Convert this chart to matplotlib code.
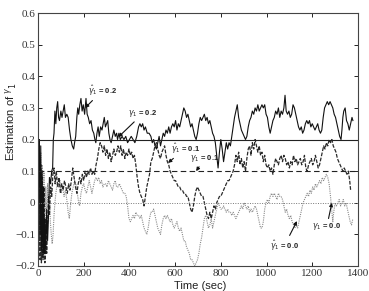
import matplotlib
matplotlib.use("Agg")
import matplotlib.pyplot as plt

# ---------------- data ----------------
t_hat02 = [0, 3, 6, 9, 12, 15, 18, 21, 24, 27, 30, 34, 38, 42, 46, 50, 55, 60, 64, 67, 70, 74, 78, 82, 86, 90, 94,
           100, 105, 110, 115, 120, 126, 132, 138, 144, 150, 156, 160, 165, 170, 174, 178, 183, 188, 193, 198,
           204, 210, 215, 220, 226, 232, 238, 244, 249, 253, 258, 263, 268, 274, 280, 285, 290, 295, 300, 305,
           310, 315, 320, 326, 332, 338, 344, 348, 354, 360, 368, 376, 384, 392, 400, 408, 416, 424, 432, 440,
           446, 452, 458, 464, 470, 478, 486, 494, 500, 506, 512, 518, 524, 530, 536, 542, 548, 554, 560, 566,
           572, 578, 584, 590, 596, 602, 608, 614, 620, 626, 632, 638, 644, 650, 656, 662, 668, 674, 680, 686,
           692, 698, 704, 710, 716, 722, 728, 734, 740, 746, 752, 758, 764, 770, 776, 782, 788, 794, 800, 806,
           812, 818, 824, 830, 836, 842, 848, 854, 860, 866, 872, 878, 884, 890, 896, 902, 908, 914, 920, 926,
           932, 938, 944, 950, 956, 962, 968, 974, 980, 986, 992, 998, 1004, 1010, 1016, 1022, 1028, 1034, 1040,
           1046, 1052, 1058, 1064, 1070, 1076, 1081, 1086, 1092, 1098, 1104, 1110, 1116, 1122, 1128, 1134, 1140,
           1146, 1152, 1158, 1164, 1170, 1176, 1182, 1188, 1194, 1200, 1206, 1212, 1218, 1224, 1230, 1236, 1242,
           1248, 1254, 1260, 1266, 1272, 1278, 1284, 1290, 1296, 1302, 1308, 1314, 1320, 1326, 1330, 1334, 1338,
           1344, 1350, 1356, 1362, 1368, 1374, 1378]
v_hat02 = [0.42, 0.05, 0.20, -0.10, 0.18, -0.15, 0.10, -0.17, 0.05, -0.16, -0.05, -0.16, -0.02, -0.12, -0.04, 0.08,
           0.06, 0.10, 0.11, 0.20, 0.22, 0.29, 0.25, 0.30, 0.32, 0.27, 0.26,
           0.29, 0.27, 0.29, 0.31, 0.27, 0.28, 0.27, 0.23, 0.20, 0.18, 0.17, 0.19, 0.21, 0.27, 0.30, 0.28, 0.31,
           0.33, 0.29, 0.31, 0.28, 0.33, 0.28, 0.27, 0.25, 0.26, 0.23, 0.22, 0.20, 0.19, 0.22, 0.24, 0.21, 0.24,
           0.23, 0.25, 0.27, 0.24, 0.25, 0.26, 0.22, 0.20, 0.19, 0.21, 0.23, 0.21, 0.22, 0.20, 0.22, 0.20,
           0.21, 0.20, 0.21, 0.19, 0.20, 0.21, 0.20, 0.19, 0.21, 0.24, 0.25, 0.24, 0.25, 0.23, 0.24, 0.22, 0.22,
           0.21, 0.19, 0.20, 0.18, 0.17, 0.19, 0.21, 0.18, 0.20, 0.22, 0.21, 0.23, 0.22, 0.24, 0.22, 0.24, 0.25,
           0.24, 0.26, 0.23, 0.25, 0.24, 0.26, 0.28, 0.30, 0.29, 0.27, 0.28, 0.26, 0.24, 0.25, 0.23, 0.21, 0.20,
           0.22, 0.25, 0.27, 0.26, 0.27, 0.28, 0.26, 0.27, 0.25, 0.26, 0.24, 0.22, 0.21, 0.19, 0.15, 0.11, 0.16,
           0.20, 0.17, 0.13, 0.16, 0.19, 0.17, 0.19, 0.18, 0.21, 0.24, 0.27, 0.29, 0.31, 0.27, 0.25, 0.23, 0.22,
           0.21, 0.20, 0.21, 0.24, 0.26, 0.27, 0.29, 0.28, 0.30, 0.29, 0.31, 0.29, 0.30, 0.31, 0.30, 0.31, 0.28,
           0.27, 0.24, 0.22, 0.24, 0.26, 0.27, 0.29, 0.28, 0.30, 0.27, 0.29, 0.28, 0.30, 0.34, 0.29, 0.28, 0.29,
           0.27, 0.28, 0.31, 0.30, 0.28, 0.26, 0.24, 0.23, 0.24, 0.22, 0.23, 0.25, 0.26, 0.25, 0.26, 0.24, 0.25,
           0.24, 0.23, 0.24, 0.25, 0.23, 0.22, 0.23, 0.27, 0.30, 0.31, 0.32, 0.31, 0.32, 0.31, 0.30, 0.28, 0.27,
           0.25, 0.23, 0.21, 0.20, 0.23, 0.27, 0.29, 0.30, 0.26, 0.25, 0.23, 0.25, 0.27, 0.26]

t_hat01 = [0, 3, 6, 9, 12, 15, 18, 22, 26, 30, 34, 38, 42, 46, 50, 55, 60, 65, 70, 75, 80, 86, 92, 98, 104, 110,
           116, 122, 128, 134, 140, 146, 152, 158, 164, 170, 176, 182, 188, 194, 200, 206, 212, 218, 224, 230,
           236, 242, 248, 254, 260, 266, 272, 278, 284, 290, 296, 302, 308, 314, 320, 326, 332, 338, 344, 350,
           356, 362, 368, 374, 380, 386, 392, 398, 404, 410, 416, 422, 428, 434, 440, 446, 452, 458, 464, 470,
           476, 482, 488, 494, 500, 506, 512, 518, 524, 530, 536, 542, 548, 554, 560, 566, 572, 578, 584, 590,
           596, 602, 608, 614, 620, 626, 632, 638, 644, 650, 656, 662, 668, 674, 680, 686, 692, 698, 704, 710,
           716, 722, 728, 734, 740, 746, 752, 758, 764, 770, 776, 782, 788, 794, 800, 806, 812, 818, 824, 830,
           836, 842, 848, 854, 860, 866, 872, 878, 884, 890, 896, 902, 908, 914, 920, 926, 932, 938, 944, 950,
           956, 962, 968, 974, 980, 986, 992, 998, 1004, 1010, 1016, 1022, 1028, 1034, 1040, 1046, 1052, 1058,
           1064, 1070, 1076, 1082, 1088, 1094, 1100, 1106, 1112, 1118, 1124, 1130, 1136, 1142, 1148, 1154, 1160,
           1166, 1172, 1178, 1184, 1190, 1196, 1202, 1208, 1214, 1220, 1226, 1232, 1238, 1244, 1250, 1256, 1262,
           1268, 1274, 1280, 1286, 1292, 1298, 1304, 1310, 1316, 1322, 1328, 1334, 1340, 1346, 1352, 1358, 1364,
           1368]
v_hat01 = [0.20, -0.12, 0.15, -0.18, 0.12, -0.19, 0.08, -0.18, 0.05, -0.19, -0.05, -0.16, -0.06, 0.02, -0.04,
           0.05, 0.02, 0.09, 0.11, 0.06, 0.10, 0.05, 0.08, 0.03, 0.06, 0.04, 0.07, 0.05, 0.03, 0.06, 0.04, 0.07,
           0.11, 0.08, 0.05, 0.03, 0.06, 0.08, 0.06, 0.09, 0.07, 0.10, 0.08, 0.10, 0.09, 0.11, 0.09, 0.10, 0.09,
           0.12, 0.14, 0.17, 0.19, 0.18, 0.16, 0.18, 0.15, 0.17, 0.14, 0.16, 0.13, 0.15, 0.17, 0.15, 0.16, 0.18,
           0.16, 0.18, 0.15, 0.17, 0.14, 0.16, 0.15, 0.17, 0.15, 0.16, 0.14, 0.15, 0.12, 0.08, 0.05, 0.03, 0.02,
           0.01, -0.01, 0.02, 0.05, 0.07, 0.09, 0.13, 0.14, 0.16, 0.18, 0.19, 0.17, 0.15, 0.14, 0.16, 0.17, 0.18,
           0.15, 0.13, 0.12, 0.10, 0.09, 0.08, 0.07, 0.07, 0.06, 0.05, 0.05, 0.04, 0.04, 0.03, 0.03, 0.02, 0.02,
           0.00, -0.02, -0.03, -0.01, 0.02, 0.04, 0.05, 0.04, 0.03, 0.02, 0.02, 0.00, -0.02, -0.04, -0.05, -0.03,
           -0.05, -0.03, -0.01, -0.02, 0.00, 0.01, 0.02, 0.02, 0.03, 0.04, 0.05, 0.06, 0.07, 0.07, 0.08, 0.09,
           0.10, 0.12, 0.15, 0.13, 0.16, 0.12, 0.14, 0.11, 0.13, 0.10, 0.14, 0.17, 0.18, 0.15, 0.19, 0.17, 0.20,
           0.18, 0.16, 0.18, 0.15, 0.16, 0.13, 0.15, 0.12, 0.11, 0.12, 0.10, 0.11, 0.09, 0.12, 0.14, 0.13, 0.12,
           0.14, 0.15, 0.13, 0.15, 0.14, 0.12, 0.13, 0.11, 0.13, 0.12, 0.15, 0.13, 0.14, 0.12, 0.13, 0.14, 0.12,
           0.13, 0.15, 0.11, 0.10, 0.12, 0.13, 0.14, 0.12, 0.13, 0.15, 0.13, 0.11, 0.12, 0.14, 0.16, 0.18, 0.17,
           0.19, 0.18, 0.20, 0.19, 0.20, 0.18, 0.17, 0.16, 0.14, 0.13, 0.12, 0.11, 0.10, 0.11, 0.10, 0.09, 0.10,
           0.07, 0.04]

t_hat00 = [0, 3, 6, 9, 12, 15, 18, 22, 26, 30, 34, 38, 42, 46, 50, 54, 58, 62, 66, 70, 74, 78, 84, 90, 96, 102,
           108, 114, 120, 126, 132, 137, 142, 148, 154, 160, 166, 172, 178, 182, 188, 194, 200, 206, 212, 218,
           224, 230, 236, 242, 248, 254, 260, 266, 272, 278, 284, 290, 296, 302, 308, 314, 320, 326, 332, 338,
           344, 350, 356, 362, 368, 374, 380, 386, 392, 398, 404, 410, 416, 422, 428, 434, 440, 446, 452, 458,
           464, 470, 476, 482, 488, 494, 500, 506, 512, 518, 524, 530, 536, 542, 548, 554, 560, 566, 572, 578,
           584, 590, 596, 602, 608, 614, 620, 626, 632, 638, 644, 650, 656, 662, 668, 674, 680, 686, 692, 698,
           704, 710, 716, 722, 728, 734, 740, 746, 752, 758, 764, 770, 776, 782, 788, 794, 800, 806, 812, 818,
           824, 830, 836, 842, 848, 854, 860, 866, 872, 878, 884, 890, 896, 902, 908, 914, 920, 926, 932, 938,
           944, 950, 956, 962, 968, 974, 980, 986, 992, 998, 1004, 1010, 1016, 1022, 1028, 1034, 1040, 1046,
           1052, 1058, 1064, 1070, 1076, 1082, 1088, 1094, 1100, 1106, 1112, 1118, 1124, 1130, 1136, 1142, 1148,
           1154, 1160, 1166, 1172, 1178, 1184, 1190, 1196, 1202, 1208, 1214, 1220, 1226, 1232, 1238, 1244, 1250,
           1256, 1262, 1268, 1274, 1280, 1286, 1290, 1294, 1300, 1306, 1312, 1318, 1324, 1330, 1336, 1342, 1348,
           1354, 1360, 1366, 1372, 1378]
v_hat00 = [0.22, -0.18, 0.20, -0.15, 0.16, -0.19, 0.12, -0.12, 0.10, -0.16, 0.05, -0.08, 0.06, -0.02, 0.04,
           -0.06, -0.10, -0.13, -0.10, -0.04, 0.00, 0.03, 0.06, 0.05, 0.07, 0.03, 0.05, 0.02, 0.04, 0.01, -0.03,
           -0.05, -0.01, 0.03, 0.05, 0.07, 0.06, 0.03, 0.00, -0.01, 0.03, 0.05, 0.06, 0.04, 0.03, 0.05, 0.07,
           0.05, 0.03, 0.05, 0.07, 0.08, 0.07, 0.08, 0.06, 0.07, 0.05, 0.06, 0.06, 0.05, 0.07, 0.06, 0.05, 0.04,
           0.06, 0.07, 0.05, 0.05, 0.06, 0.05, 0.04, 0.03, 0.03, 0.02, -0.01, -0.05, -0.06, -0.05, -0.04, -0.05,
           -0.03, -0.04, -0.04, -0.05, -0.04, -0.06, -0.08, -0.09, -0.10, -0.08, -0.05, -0.03, -0.03, -0.02,
           -0.04, -0.06, -0.08, -0.09, -0.10, -0.07, -0.05, -0.04, -0.05, -0.04, -0.05, -0.06, -0.05, -0.07,
           -0.08, -0.07, -0.06, -0.08, -0.09, -0.08, -0.10, -0.12, -0.12, -0.14, -0.15, -0.16, -0.18, -0.18,
           -0.19, -0.20, -0.19, -0.18, -0.16, -0.13, -0.11, -0.08, -0.05, -0.04, -0.06, -0.08, -0.07, -0.05,
           -0.08, -0.06, -0.04, -0.02, 0.00, -0.01, -0.02, -0.02, -0.01, -0.02, -0.03, -0.02, -0.03, -0.03,
           -0.04, -0.03, -0.04, -0.05, -0.04, -0.03, -0.02, -0.01, -0.02, 0.00, -0.01, -0.02, -0.01, -0.03,
           -0.02, -0.03, -0.02, -0.01, -0.02, -0.04, -0.06, -0.08, -0.08, -0.06, -0.02, 0.00, 0.01, 0.00, 0.02,
           0.03, 0.02, 0.03, 0.02, 0.01, 0.03, 0.02, 0.02, 0.01, -0.01, -0.03, -0.02, -0.04, -0.05, -0.04, -0.06,
           -0.07, -0.08, -0.07, -0.08, -0.06, -0.04, -0.02, 0.00, 0.01, 0.02, 0.03, 0.02, 0.04, 0.03, 0.05, 0.04,
           0.06, 0.05, 0.06, 0.07, 0.06, 0.08, 0.07, 0.08, 0.09, 0.08, 0.06, 0.02, -0.03, -0.06, -0.03, 0.00,
           -0.01, 0.00, 0.01, -0.01, 0.00, 0.01, -0.01, 0.00, -0.02, -0.04, -0.06, -0.07, -0.05]

t_ref = [0, 1400]
true_vals = [0.2, 0.1, 0.0]

xticks = [0, 200, 400, 600, 800, 1000, 1200, 1400]
yticks = [-0.2, -0.1, 0, 0.1, 0.2, 0.3, 0.4, 0.5, 0.6]
ytick_labels = ["\u22120.2", "\u22120.1", "0", "0.1", "0.2", "0.3", "0.4", "0.5", "0.6"]

# ---------------- figure ----------------
plt.rcParams['mathtext.fontset'] = 'dejavusans'
fig = plt.figure(figsize=(3.69, 2.91), dpi=100)
ax = fig.add_axes([0.103, 0.086, 0.867, 0.869])

ax.plot(t_hat00, v_hat00, color='#8a8a8a', lw=0.8, ls=(0, (1, 1)))
ax.plot(t_hat01, v_hat01, color='#2a2a2a', lw=0.9, ls=(0, (3, 1.2)))
ax.plot(t_hat02, v_hat02, color='#111111', lw=0.8)

ax.plot(t_ref, [true_vals[0]] * 2, color='#222222', lw=0.8)
ax.plot(t_ref, [true_vals[1]] * 2, color='#222222', lw=0.8, ls=(0, (5, 3)))
ax.plot(t_ref, [true_vals[2]] * 2, color='#777777', lw=0.7, ls=(0, (1, 1.5)))

ax.set_xlim(0, 1400)
ax.set_ylim(-0.2, 0.6)
ax.set_xticks(xticks)
ax.set_yticks(yticks)
ax.set_yticklabels(ytick_labels)
ax.tick_params(direction='in', top=True, right=True, length=3, width=0.6, labelsize=8, pad=2,
               labelcolor='#333333', labelfontfamily='Liberation Serif')
for s in ax.spines.values():
    s.set_linewidth(0.8)
    s.set_color('#444444')

ax.set_xlabel("Time (sec)", fontsize=8, family='Liberation Sans', color='#222222', va='bottom')
ax.xaxis.set_label_coords(0.506, -0.098)
ax.set_ylabel(r"Estimation of $^{\gamma}{}_{1}$", fontsize=8, family='Liberation Sans', color='#222222', va='center')
ax.yaxis.set_label_coords(-0.085, 0.57)

akw = dict(fontsize=5.5, family='Liberation Sans', fontweight='bold', color='#222222')
arw = dict(arrowstyle='-|>', color='#111111', lw=0.8, mutation_scale=5, shrinkA=0, shrinkB=0)
ax.annotate(r"$\hat{\gamma}_1$ = 0.2", xy=(206, 0.30), xytext=(218, 0.355), arrowprops=arw, ha='left', va='center', **akw)
ax.annotate(r"$\gamma_1$ = 0.2", xy=(352, 0.208), xytext=(395, 0.282), arrowprops=arw, ha='left', va='center', **akw)
ax.annotate(r"$\hat{\gamma}_1$ = 0.1", xy=(569, 0.126), xytext=(580, 0.172), arrowprops=arw, ha='left', va='center', **akw)
ax.annotate(r"$\gamma_1$ = 0.1", xy=(692, 0.10), xytext=(665, 0.14), arrowprops=arw, ha='left', va='center', **akw)
ax.annotate(r"$\hat{\gamma}_1$ = 0.0", xy=(1133, -0.058), xytext=(1015, -0.135), arrowprops=arw, ha='left', va='center', **akw)
ax.annotate(r"$\gamma_1$ = 0.0", xy=(1286, 0.0), xytext=(1200, -0.076), arrowprops=arw, ha='left', va='center', **akw)

fig.savefig("out.png", dpi=100)
